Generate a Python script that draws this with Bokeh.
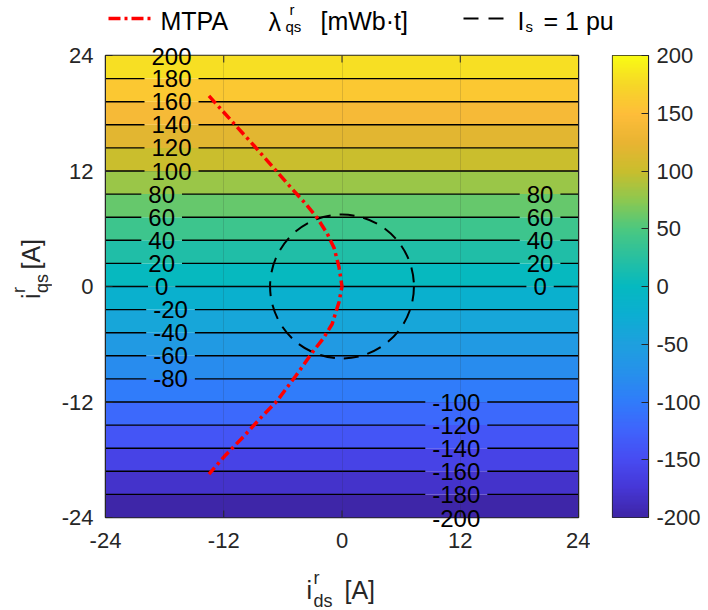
import numpy as np
from bokeh.plotting import figure
from bokeh.models import (ColumnDataSource, LabelSet, LinearAxis, FixedTicker,
                          LinearColorMapper, Range1d)
from bokeh.layouts import column, row
from bokeh.embed import file_html
from bokeh.resources import INLINE
from bokeh.core.properties import value
from bokeh.transform import linear_cmap

# ---------------- data ----------------
levels = [-200, -180, -160, -140, -120, -100, -80, -60, -40, -20, 0,
          20, 40, 60, 80, 100, 120, 140, 160, 180, 200]
level_iqs = [-24.0, -21.6, -19.2, -16.8, -14.4, -12.0, -9.6, -7.2, -4.8, -2.4, 0.0,
             2.4, 4.8, 7.2, 9.6, 12.0, 14.4, 16.8, 19.2, 21.6, 24.0]

mtpa_id = [-13.5, -11.2, -8.9, -7.0, -5.2, -3.7, -2.5, -1.5, -0.8, -0.3, 0.0,
           -0.3, -1.0, -1.9, -2.9, -4.7, -6.6, -8.3, -10.0, -11.8, -13.5]
mtpa_iq = [19.8, 17.2, 14.6, 12.4, 10.3, 8.6, 7.1, 5.5, 4.0, 2.0, 0.0,
           -1.6, -3.9, -5.4, -6.7, -9.3, -11.9, -13.7, -15.6, -17.5, -19.5]

is_center_d = [0.0]
is_center_q = [0.0]
is_radius = [7.3]

axis_ticks = [-24, -12, 0, 12, 24]
cbar_ticks = [-200, -150, -100, -50, 0, 50, 100, 150, 200]

# ---------------- style ----------------
FONT = "Liberation Sans"
DARK = "#262626"
TICK_FS = 22
CB_FS = 22
CL_FS = 24
LEG_FS = 25
AX_FS = 25
SUB_FS = 18

anchors = [
    (-200, (62, 38, 168)), (-175, (70, 55, 215)), (-150, (71, 76, 242)),
    (-125, (63, 100, 252)), (-100, (48, 124, 250)), (-75, (38, 145, 235)),
    (-50, (30, 160, 222)), (-25, (12, 174, 210)), (0, (5, 185, 192)),
    (25, (40, 192, 160)), (50, (75, 200, 128)), (75, (140, 200, 80)),
    (100, (200, 190, 45)), (125, (232, 180, 50)), (150, (254, 189, 58)),
    (175, (246, 214, 40)), (200, (249, 250, 20)),
]
av = np.array([a[0] for a in anchors], float)
ac = np.array([a[1] for a in anchors], float)
tt = np.linspace(-200, 200, 256)
palette = ["#%02x%02x%02x" % tuple(int(round(np.interp(t, av, ac[:, k]))) for k in range(3))
           for t in tt]

# ---------------- layout constants (page pixels) ----------------
FRAME_L, FRAME_R, FRAME_T, FRAME_B = 105, 578, 55, 517
LEG_H = 36          # legend strip on top
XLAB_H = 43         # x label strip at bottom
YLAB_W = 52         # y label strip at left
MID_H = 610 - LEG_H - XLAB_H
MAIN_W = 590 - YLAB_W
CB_W = 708 - 590
TICK_LEN = 7

# ---------------- main figure ----------------
p = figure(width=MAIN_W, height=MID_H, x_range=Range1d(-24, 24), y_range=Range1d(-24, 24),
           output_backend="svg", toolbar_location=None, x_axis_location=None,
           min_border_left=FRAME_L - YLAB_W, min_border_right=590 - FRAME_R,
           min_border_top=FRAME_T - LEG_H, min_border_bottom=(610 - XLAB_H) - FRAME_B)
p.background_fill_color = "white"
p.border_fill_color = "white"
p.outline_line_color = DARK
p.outline_line_width = 1.5

band_src = ColumnDataSource(dict(bottom=level_iqs[:-1], top=level_iqs[1:], lev=levels[:-1]))
p.quad(left=-24, right=24, bottom="bottom", top="top", source=band_src,
       fill_color=linear_cmap("lev", palette, low=-200, high=200), line_color=None)

# contour label placement (x position of the label on each contour)
px_per_x = (FRAME_R - FRAME_L) / 48.0
px_per_y = (FRAME_B - FRAME_T) / 48.0
groups = []
for lev, yq in zip(levels, level_iqs):
    if lev >= 100:
        groups.append((lev, yq, -17.3))
    elif lev >= 0:
        groups.append((lev, yq, -18.3))
        groups.append((lev, yq, 20.1))
    elif lev >= -80:
        groups.append((lev, yq, -17.4))
    else:
        groups.append((lev, yq, 11.6))

def text_w(s):
    return sum(0.333 if ch == "-" else 0.556 for ch in s) * CL_FS

seg_x0, seg_x1, seg_y = [], [], []
for lev, yq in zip(levels, level_iqs):
    if abs(lev) == 200:
        continue
    gaps = []
    for (l2, y2, xl) in groups:
        if l2 == lev:
            hw = (text_w(str(lev)) / 2 + 7) / px_per_x
            gaps.append((xl - hw, xl + hw))
    gaps.sort()
    start = -24.0
    for g0, g1 in gaps:
        seg_x0.append(start); seg_x1.append(g0); seg_y.append(yq)
        start = g1
    seg_x0.append(start); seg_x1.append(24.0); seg_y.append(yq)
p.segment(x0=seg_x0, y0=seg_y, x1=seg_x1, y1=seg_y, line_color="black", line_width=1.4)

inner = [g for g in groups if abs(g[0]) != 200]
top_g = [g for g in groups if g[0] == levels[-1]][0]
bot_g = [g for g in groups if g[0] == levels[0]][0]
lab_src = ColumnDataSource(dict(x=[g[2] for g in inner], y=[g[1] for g in inner],
                                text=[str(g[0]) for g in inner]))
p.add_layout(LabelSet(x="x", y="y", text="text", source=lab_src, text_align="center",
                      text_baseline="middle", text_font=value(FONT),
                      text_font_size="%dpx" % CL_FS, text_color="black"))

# I_s circle and MTPA
p.circle(x=is_center_d, y=is_center_q, radius=is_radius, fill_color=None,
         line_color="black", line_width=2, line_dash="15 9")
p.line(mtpa_id, mtpa_iq, line_color="#ff0000", line_width=3.5, line_dash="10 4 3 4")

# inward tick marks on the top and bottom edges
tl = TICK_LEN / px_per_y
p.segment(x0=axis_ticks, x1=axis_ticks, y0=[-24.0] * len(axis_ticks),
          y1=[-24.0 + tl] * len(axis_ticks), line_color=DARK, line_width=1)
p.segment(x0=axis_ticks, x1=axis_ticks, y0=[24.0] * len(axis_ticks),
          y1=[24.0 - tl] * len(axis_ticks), line_color=DARK, line_width=1)

def edge_label_axis(xpos, txt, standoff):
    return LinearAxis(ticker=FixedTicker(ticks=[xpos]), major_label_overrides={xpos: txt},
                      major_tick_in=0, major_tick_out=0, minor_tick_in=0, minor_tick_out=0,
                      axis_line_color=None, major_tick_line_color=None,
                      minor_tick_line_color=None, major_label_standoff=standoff,
                      major_label_text_font=FONT, major_label_text_font_size="%dpx" % CL_FS,
                      major_label_text_color="black")

# contour labels that sit on the frame edges (drawn as axis labels so they are not clipped)
top_lab = edge_label_axis(top_g[2], str(top_g[0]), -9)
bot_lab = edge_label_axis(bot_g[2], str(bot_g[0]), -8)

xax = LinearAxis(ticker=FixedTicker(ticks=axis_ticks),
                 major_label_overrides={t: str(t) for t in axis_ticks},
                 major_tick_in=0, major_tick_out=0, minor_tick_in=0, minor_tick_out=0,
                 axis_line_color=None, major_tick_line_color=None, minor_tick_line_color=None,
                 major_label_text_font=FONT, major_label_text_font_size="%dpx" % TICK_FS,
                 major_label_text_color=DARK, major_label_standoff=3)
p.below = [bot_lab, xax]
p.above = [top_lab]

yax = p.yaxis[0]
yax.ticker = FixedTicker(ticks=axis_ticks)
yax.major_label_overrides = {t: str(t) for t in axis_ticks}
yax.major_tick_in = TICK_LEN
yax.major_tick_out = 0
yax.minor_tick_line_color = None
yax.axis_line_color = DARK
yax.major_tick_line_color = DARK
yax.major_label_text_font = FONT
yax.major_label_text_font_size = "%dpx" % TICK_FS
yax.major_label_text_color = DARK
yax.major_label_standoff = 12

rax = LinearAxis(ticker=FixedTicker(ticks=axis_ticks), major_tick_in=TICK_LEN, major_tick_out=0,
                 minor_tick_line_color=None, major_label_text_font_size="8px",
                 major_label_overrides={t: "" for t in axis_ticks},
                 major_label_standoff=0, axis_line_color=DARK, major_tick_line_color=DARK)
p.add_layout(rax, "right")

p.xgrid.ticker = FixedTicker(ticks=axis_ticks)
p.ygrid.ticker = FixedTicker(ticks=axis_ticks)
p.grid.grid_line_color = DARK
p.grid.grid_line_alpha = 0.15
p.grid.level = "overlay"

# ---------------- colorbar figure ----------------
cb = figure(width=CB_W, height=MID_H, x_range=Range1d(0, 1), y_range=Range1d(-200, 200),
            output_backend="svg", toolbar_location=None, y_axis_location="right",
            x_axis_location=None,
            min_border_left=612 - 590, min_border_right=708 - 648,
            min_border_top=FRAME_T - LEG_H, min_border_bottom=(610 - XLAB_H) - FRAME_B)
cb.grid.visible = False
cb.outline_line_color = DARK
cb.outline_line_width = 1.2
cb.background_fill_color = "white"
cb.border_fill_color = "white"
mapper = LinearColorMapper(palette=palette, low=-200, high=200)
grad = np.linspace(-200, 200, 400).reshape(-1, 1)
cb.image(image=[grad], x=0, y=-200, dw=1, dh=400, color_mapper=mapper)
ya = cb.yaxis[0]
ya.ticker = FixedTicker(ticks=cbar_ticks)
ya.major_label_overrides = {t: str(t) for t in cbar_ticks}
ya.major_tick_in = TICK_LEN
ya.major_tick_out = 0
ya.minor_tick_line_color = None
ya.axis_line_color = DARK
ya.major_tick_line_color = DARK
ya.major_label_text_font = FONT
ya.major_label_text_font_size = "%dpx" % CB_FS
ya.major_label_text_color = DARK
ya.major_label_standoff = 8

# ---------------- helper strips ----------------
def strip(w, h, flip=False):
    f = figure(width=w, height=h, x_range=Range1d(0, w),
               y_range=Range1d(h, 0) if flip else Range1d(0, h),
               output_backend="svg", toolbar_location=None, x_axis_location=None,
               y_axis_location=None, min_border=0)
    f.grid.visible = False
    f.outline_line_color = None
    f.background_fill_color = "white"
    f.border_fill_color = "white"
    return f

def txt(f, s, x, y, fs, angle=0.0, color="black"):
    f.text(x=[x], y=[y], text=[s], text_font=value(FONT), text_font_size="%dpx" % fs,
           text_align="left", text_baseline="middle", text_color=color, angle=angle)

# legend strip (page coordinates, y down)
lg = strip(708, LEG_H, flip=True)
lg.line([108, 150], [18, 18], line_color="#ff0000", line_width=3.5, line_dash="12 4 3 4")
lg.line([463, 503], [18, 18], line_color="black", line_width=2, line_dash="15 10")
txt(lg, "MTPA", 160, 20, LEG_FS)
txt(lg, "\u03bb", 268, 21, LEG_FS)
txt(lg, "r", 289, 9, 15)
txt(lg, "qs", 285, 26, 15)
txt(lg, "[mWb\u00b7t]", 320, 20, LEG_FS)
txt(lg, "I", 517, 20, LEG_FS)
txt(lg, "s", 525, 26, 15)
txt(lg, "= 1 pu", 543, 20, LEG_FS)

# y label strip (local y = strip bottom page y - page y)
yl = strip(YLAB_W, MID_H)
base = 610 - XLAB_H
txt(yl, "i", 30, base - 316, AX_FS, np.pi / 2, DARK)
txt(yl, "r", 18, base - 309, SUB_FS, np.pi / 2, DARK)
txt(yl, "qs", 41, base - 309, SUB_FS, np.pi / 2, DARK)
txt(yl, "[A]", 30, base - 282, AX_FS, np.pi / 2, DARK)

# x label strip (local y = 610 - page y)
xl = strip(708, XLAB_H)
txt(xl, "i", 306, 610 - 589, AX_FS, 0.0, DARK)
txt(xl, "r", 313, 610 - 577, SUB_FS, 0.0, DARK)
txt(xl, "ds", 313, 610 - 600, SUB_FS, 0.0, DARK)
txt(xl, "[A]", 344, 610 - 589, AX_FS, 0.0, DARK)

layout = column(lg, row(yl, p, cb, spacing=0), xl, spacing=0)
open("out.html", "w").write(file_html(layout, INLINE))
